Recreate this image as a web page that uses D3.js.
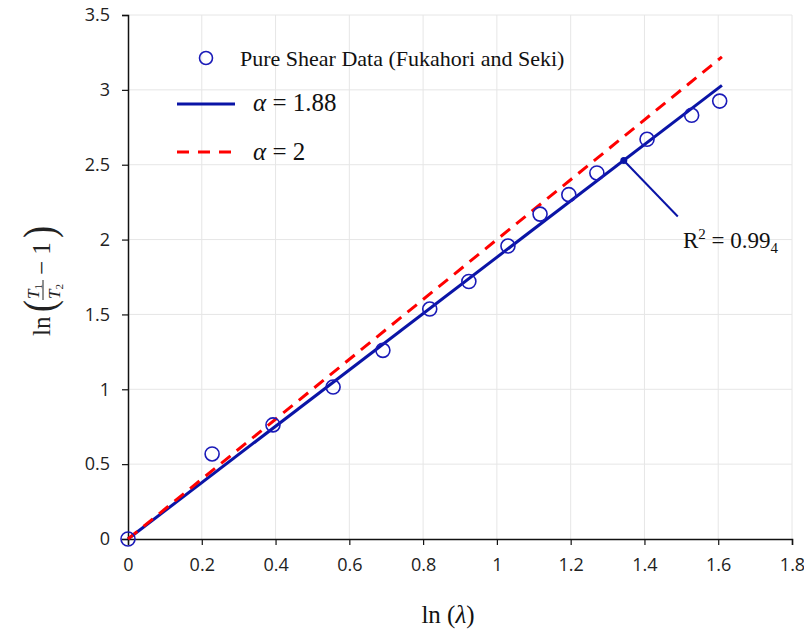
<!DOCTYPE html>
<html>
<head>
<meta charset="utf-8">
<script src="https://cdn.jsdelivr.net/npm/d3@7.9.0/dist/d3.min.js"></script>
<style>
  body { margin: 0; background: #fff; }
  svg { display: block; }
</style>
</head>
<body>
<svg id="chart" width="804" height="632"></svg>
<script>
// measured points: ln(lambda), ln(T1/T2 - 1)
const lnLambda = [0, 0.228, 0.393, 0.556, 0.691, 0.818, 0.924, 1.03, 1.117, 1.195, 1.271, 1.407, 1.528, 1.604];
const lnRatio  = [0, 0.568, 0.762, 1.015, 1.26, 1.536, 1.72, 1.957, 2.17, 2.30, 2.445, 2.67, 2.83, 2.925];

// model lines (end points)
const fit188 = [[0, 0], [1.61, 3.03]];
const fit2   = [[0, 0], [1.61, 3.22]];

const xTicks = [0, 0.2, 0.4, 0.6, 0.8, 1, 1.2, 1.4, 1.6, 1.8];
const yTicks = [0, 0.5, 1, 1.5, 2, 2.5, 3, 3.5];

const r2Point = [1.344, 2.528];

const svg = d3.select('#chart');
const plotL = 128, plotR = 792, plotT = 15, plotB = 539;

const x = d3.scaleLinear().domain([0, 1.8]).range([plotL, plotR]);
const y = d3.scaleLinear().domain([0, 3.5]).range([plotB, plotT]);

const navy = '#0a14a6';
const red = '#ff0000';
const serif = '"Liberation Serif", serif';

// gridlines
svg.append('g')
  .selectAll('line')
  .data(xTicks.slice(1))
  .join('line')
  .attr('x1', d => x(d)).attr('x2', d => x(d))
  .attr('y1', plotT).attr('y2', plotB)
  .attr('stroke', '#e6e6e6').attr('stroke-width', 1);

svg.append('g')
  .selectAll('line')
  .data(yTicks.slice(1))
  .join('line')
  .attr('x1', plotL).attr('x2', plotR)
  .attr('y1', d => y(d)).attr('y2', d => y(d))
  .attr('stroke', '#e6e6e6').attr('stroke-width', 1);

// axes
const xAxis = svg.append('g')
  .attr('transform', `translate(0,${plotB})`)
  .call(d3.axisBottom(x).tickValues(xTicks).tickFormat(d3.format('~g')).tickSizeOuter(0).tickSize(6).tickPadding(13));

const yAxis = svg.append('g')
  .attr('transform', `translate(${plotL},0)`)
  .call(d3.axisLeft(y).tickValues(yTicks).tickFormat(d3.format('~g')).tickSizeOuter(0).tickSize(6).tickPadding(12));

[xAxis, yAxis].forEach(a => {
  a.select('.domain').attr('stroke', '#111').attr('stroke-width', 1.5);
  a.selectAll('.tick line').attr('stroke', '#111').attr('stroke-width', 1.2);
  a.selectAll('.tick text')
    .attr('fill', '#222')
    .style('font-family', '"Open Sans", sans-serif')
    .style('font-size', '18px');
});

// lines
const line = d3.line().x(d => x(d[0])).y(d => y(d[1]));

svg.append('path')
  .datum(fit188)
  .attr('d', line)
  .attr('fill', 'none')
  .attr('stroke', navy)
  .attr('stroke-width', 3);

svg.append('path')
  .datum(fit2)
  .attr('d', line)
  .attr('fill', 'none')
  .attr('stroke', red)
  .attr('stroke-width', 3)
  .attr('stroke-dasharray', '12,8');

// data points
svg.append('g')
  .selectAll('circle')
  .data(lnLambda.map((v, i) => [v, lnRatio[i]]))
  .join('circle')
  .attr('cx', d => x(d[0]))
  .attr('cy', d => y(d[1]))
  .attr('r', 7)
  .attr('fill', 'none')
  .attr('stroke', '#1a1ab8')
  .attr('stroke-width', 1.6);

// R^2 annotation
svg.append('circle')
  .attr('cx', x(r2Point[0])).attr('cy', y(r2Point[1]))
  .attr('r', 3.5).attr('fill', navy);
svg.append('line')
  .attr('x1', x(r2Point[0])).attr('y1', y(r2Point[1]))
  .attr('x2', x(r2Point[0]) + 54).attr('y2', y(r2Point[1]) + 56)
  .attr('stroke', navy).attr('stroke-width', 2);

const r2 = svg.append('text')
  .attr('x', 683).attr('y', 248)
  .style('font-family', serif)
  .style('font-size', '23px')
  .attr('fill', '#111');
r2.append('tspan').text('R');
r2.append('tspan').attr('dy', -9).style('font-size', '15px').text('2');
r2.append('tspan').attr('dy', 9).text(' = 0.99');
r2.append('tspan').attr('dy', 5).style('font-size', '15px').text('4');

// legend
const lg = svg.append('g');
lg.append('circle').attr('cx', 206).attr('cy', 58).attr('r', 6.5)
  .attr('fill', 'none').attr('stroke', '#1a1ab8').attr('stroke-width', 1.6);
lg.append('text').attr('x', 240).attr('y', 66)
  .style('font-family', serif).style('font-size', '22px')
  .attr('fill', '#111').text('Pure Shear Data (Fukahori and Seki)');

lg.append('line').attr('x1', 177).attr('x2', 235).attr('y1', 104).attr('y2', 104)
  .attr('stroke', navy).attr('stroke-width', 3);
const t1 = lg.append('text').attr('x', 253).attr('y', 111)
  .style('font-family', serif).style('font-size', '25px').attr('fill', '#111');
t1.append('tspan').style('font-style', 'italic').text('α');
t1.append('tspan').text(' = 1.88');

lg.append('line').attr('x1', 177).attr('x2', 235).attr('y1', 152).attr('y2', 152)
  .attr('stroke', red).attr('stroke-width', 3).attr('stroke-dasharray', '12,9');
const t2 = lg.append('text').attr('x', 253).attr('y', 160)
  .style('font-family', serif).style('font-size', '25px').attr('fill', '#111');
t2.append('tspan').style('font-style', 'italic').text('α');
t2.append('tspan').text(' = 2');

// x axis title
const xt = svg.append('text')
  .attr('x', 448).attr('y', 623)
  .attr('text-anchor', 'middle')
  .style('font-family', serif)
  .style('font-size', '25px')
  .attr('fill', '#111');
xt.append('tspan').text('ln (');
xt.append('tspan').style('font-style', 'italic').text('λ');
xt.append('tspan').text(')');

// y axis title: ln( T1/T2 − 1 ), rotated
const yt = svg.append('g').attr('transform', 'translate(50,336) rotate(-90)');
yt.append('text').attr('x', 0).attr('y', 0)
  .style('font-family', serif).style('font-size', '25px').attr('fill', '#222').text('ln');
yt.append('text').attr('x', 24).attr('y', 4)
  .style('font-family', serif).style('font-size', '36px').attr('fill', '#222')
  .attr('transform', 'translate(24,4) scale(1,1.25) translate(-24,-4)').text('(');
const num = yt.append('text').attr('x', 37).attr('y', -11)
  .style('font-family', serif).style('font-size', '17px').attr('fill', '#222');
num.append('tspan').style('font-style', 'italic').text('T');
num.append('tspan').attr('dy', 3).style('font-size', '11px').text('1');
yt.append('line').attr('x1', 36).attr('x2', 56).attr('y1', -7).attr('y2', -7)
  .attr('stroke', '#222').attr('stroke-width', 1);
const den = yt.append('text').attr('x', 37).attr('y', 10)
  .style('font-family', serif).style('font-size', '17px').attr('fill', '#222');
den.append('tspan').style('font-style', 'italic').text('T');
den.append('tspan').attr('dy', 3).style('font-size', '11px').text('2');
yt.append('text').attr('x', 61).attr('y', 0)
  .style('font-family', serif).style('font-size', '25px').attr('fill', '#222').text('− 1');
yt.append('text').attr('x', 98).attr('y', 4)
  .style('font-family', serif).style('font-size', '36px').attr('fill', '#222')
  .attr('transform', 'translate(98,4) scale(1,1.25) translate(-98,-4)').text(')');
</script>
</body>
</html>
